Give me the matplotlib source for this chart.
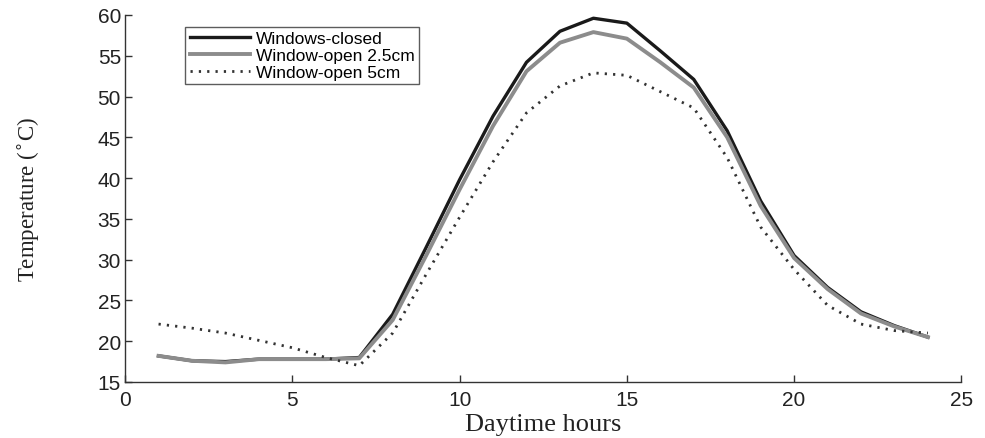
import matplotlib
matplotlib.use("Agg")
import matplotlib.pyplot as plt

# --- data ---
hours = list(range(1, 25))
closed = [18.2, 17.6, 17.5, 17.8, 17.8, 17.8, 18.0, 23.3, 31.5, 39.8, 47.6, 54.2,
          58.0, 59.6, 59.0, 55.6, 52.1, 45.8, 37.2, 30.5, 26.6, 23.6, 21.9, 20.5]
open_25 = [18.2, 17.6, 17.4, 17.8, 17.8, 17.8, 17.9, 22.6, 30.5, 38.6, 46.4, 53.1,
           56.6, 57.9, 57.1, 54.2, 51.1, 45.0, 36.6, 30.2, 26.4, 23.4, 21.8, 20.5]
open_5 = [22.1, 21.6, 21.0, 20.1, 19.2, 18.0, 17.0, 21.0, 28.2, 35.2, 42.0, 48.0,
          51.3, 52.9, 52.6, 50.6, 48.6, 42.5, 34.0, 28.8, 24.4, 22.1, 21.3, 21.0]

x_ticks = [0, 5, 10, 15, 20, 25]
y_ticks = [15, 20, 25, 30, 35, 40, 45, 50, 55, 60]

fig = plt.figure(figsize=(9.85, 4.39), dpi=100)
ax = fig.add_axes([0.127, 0.1276, 0.849, 0.836])

ax.plot(hours, closed, color="#1a1a1a", lw=2.4, label="Windows-closed")
ax.plot(hours, open_25, color="#8c8c8c", lw=2.8, label="Window-open 2.5cm")
ax.plot(hours, open_5, color="#333333", lw=2.0, ls=(0, (0.8, 2.2)),
        label="Window-open 5cm")

ax.set_xlim(0, 25)
ax.set_ylim(15, 60)
ax.set_xticks(x_ticks)
ax.set_yticks(y_ticks)

for s in ["top", "right"]:
    ax.spines[s].set_visible(False)
for s in ["left", "bottom"]:
    ax.spines[s].set_color("#333333")
    ax.spines[s].set_linewidth(1.0)

ax.tick_params(direction="in", length=5, width=1, color="#333333",
               labelsize=15, labelcolor="#222222")
ax.tick_params(axis="x", pad=6)
ax.tick_params(axis="y", pad=3)
for lab in ax.get_xticklabels() + ax.get_yticklabels():
    lab.set_family("Liberation Sans")

ax.set_xlabel("Daytime hours", family="Liberation Serif", fontsize=19,
              color="#222222", labelpad=3)
ax.set_ylabel("Temperature ($^{\\circ}$C)", family="Liberation Serif",
              fontsize=16.5, color="#222222", labelpad=40)

leg = ax.legend(loc="upper left", bbox_to_anchor=(0.072, 0.968),
                prop={"family": "Liberation Sans", "size": 12.5},
                frameon=True, fancybox=False, handlelength=3.5,
                handletextpad=0.3, borderpad=0.25, labelspacing=0.1,
                borderaxespad=0)
leg.get_frame().set_edgecolor("#333333")
leg.get_frame().set_linewidth(1.0)

plt.savefig("out.png", dpi=100)
